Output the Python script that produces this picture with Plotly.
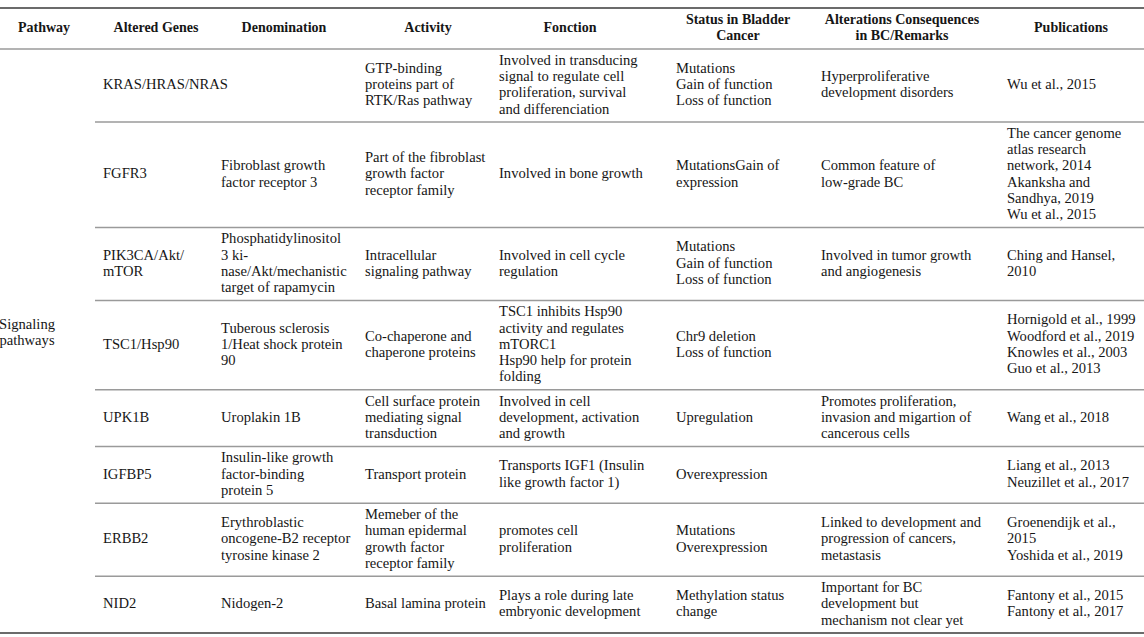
import plotly.graph_objects as go

# ---------------- data ----------------
header_lines = [
    ["Pathway"],
    ["Altered Genes"],
    ["Denomination"],
    ["Activity"],
    ["Fonction"],
    ["Status in Bladder", "Cancer"],
    ["Alterations Consequences", "in BC/Remarks"],
    ["Publications"],
]

pathway_label = ["Signaling", "pathways"]

altered_genes = [
    ["KRAS/HRAS/NRAS"],
    ["FGFR3"],
    ["PIK3CA/Akt/", "mTOR"],
    ["TSC1/Hsp90"],
    ["UPK1B"],
    ["IGFBP5"],
    ["ERBB2"],
    ["NID2"],
]

denomination = [
    [],
    ["Fibroblast growth", "factor receptor 3"],
    ["Phosphatidylinositol", "3 ki-", "nase/Akt/mechanistic", "target of rapamycin"],
    ["Tuberous sclerosis", "1/Heat shock protein", "90"],
    ["Uroplakin 1B"],
    ["Insulin-like growth", "factor-binding", "protein 5"],
    ["Erythroblastic", "oncogene-B2 receptor", "tyrosine kinase 2"],
    ["Nidogen-2"],
]

activity = [
    ["GTP-binding", "proteins part of", "RTK/Ras pathway"],
    ["Part of the fibroblast", "growth factor", "receptor family"],
    ["Intracellular", "signaling pathway"],
    ["Co-chaperone and", "chaperone proteins"],
    ["Cell surface protein", "mediating signal", "transduction"],
    ["Transport protein"],
    ["Memeber of the", "human epidermal", "growth factor", "receptor family"],
    ["Basal lamina protein"],
]

fonction = [
    ["Involved in transducing", "signal to regulate cell", "proliferation, survival", "and differenciation"],
    ["Involved in bone growth"],
    ["Involved in cell cycle", "regulation"],
    ["TSC1 inhibits Hsp90", "activity and regulates", "mTORC1", "Hsp90 help for protein", "folding"],
    ["Involved in cell", "development, activation", "and growth"],
    ["Transports IGF1 (Insulin", "like growth factor 1)"],
    ["promotes cell", "proliferation"],
    ["Plays a role during late", "embryonic development"],
]

status_bc = [
    ["Mutations", "Gain of function", "Loss of function"],
    ["MutationsGain of", "expression"],
    ["Mutations", "Gain of function", "Loss of function"],
    ["Chr9 deletion", "Loss of function"],
    ["Upregulation"],
    ["Overexpression"],
    ["Mutations", "Overexpression"],
    ["Methylation status", "change"],
]

alterations = [
    ["Hyperproliferative", "development disorders"],
    ["Common feature of", "low-grade BC"],
    ["Involved in tumor growth", "and angiogenesis"],
    [],
    ["Promotes proliferation,", "invasion and migartion of", "cancerous cells"],
    [],
    ["Linked to development and", "progression of cancers,", "metastasis"],
    ["Important for BC", "development but", "mechanism not clear yet"],
]

publications = [
    ["Wu et al., 2015"],
    ["The cancer genome", "atlas research", "network, 2014", "Akanksha and", "Sandhya, 2019", "Wu et al., 2015"],
    ["Ching and Hansel,", "2010"],
    ["Hornigold et al., 1999", "Woodford et al., 2019", "Knowles et al., 2003", "Guo et al., 2013"],
    ["Wang et al., 2018"],
    ["Liang et al., 2013", "Neuzillet et al., 2017"],
    ["Groenendijk et al.,", "2015", "Yoshida et al., 2019"],
    ["Fantony et al., 2015", "Fantony et al., 2017"],
]

# ---------------- layout constants ----------------
W, H = 1144, 637
FONT = "Liberation Serif"
BODY_SIZE = 14.6
HEAD_SIZE = 14
LINE_H = 16.25
PAD = 8
TOP_Y = 8
HEAD_Y = 49
ROW_LINE_X0 = 95
col_text_x = [103, 221, 365, 499, 676, 821, 1007]
header_cx = [44, 156, 284, 428, 570, 738, 902, 1071]
pathway_cx = 27
pathway_shift = -8
TEXT_COLOR = "#161616"

body_cols = [altered_genes, denomination, activity, fonction, status_bc, alterations, publications]
n_rows = len(altered_genes)

# row boundaries from number of text lines
row_bounds = [HEAD_Y]
for r in range(n_rows):
    nmax = max(len(c[r]) for c in body_cols)
    row_bounds.append(row_bounds[-1] + nmax * LINE_H + PAD)

xs, ys, ts = [], [], []
for ci, col in enumerate(body_cols):
    for r in range(n_rows):
        lines = col[r]
        yc = (row_bounds[r] + row_bounds[r + 1]) / 2
        n = len(lines)
        for k, t in enumerate(lines):
            xs.append(col_text_x[ci])
            ys.append(yc + (k - (n - 1) / 2) * LINE_H)
            ts.append(t)

hx, hy, ht = [], [], []
head_c = (TOP_Y + HEAD_Y) / 2
for ci, lines in enumerate(header_lines):
    n = len(lines)
    for k, t in enumerate(lines):
        hx.append(header_cx[ci])
        hy.append(head_c + (k - (n - 1) / 2) * LINE_H)
        ht.append("<b>" + t + "</b>")

body_c = (HEAD_Y + row_bounds[-1]) / 2 + pathway_shift
px, py, pt = [], [], []
for k, t in enumerate(pathway_label):
    px.append(pathway_cx)
    py.append(body_c + (k - (len(pathway_label) - 1) / 2) * LINE_H)
    pt.append(t)

fig = go.Figure()
fig.add_trace(go.Scatter(x=xs, y=ys, text=ts, mode="text", textposition="middle right",
                         textfont=dict(family=FONT, size=BODY_SIZE, color=TEXT_COLOR),
                         hoverinfo="skip", showlegend=False, cliponaxis=False))
fig.add_trace(go.Scatter(x=px, y=py, text=pt, mode="text", textposition="middle center",
                         textfont=dict(family=FONT, size=BODY_SIZE, color=TEXT_COLOR),
                         hoverinfo="skip", showlegend=False, cliponaxis=False))
fig.add_trace(go.Scatter(x=hx, y=hy, text=ht, mode="text", textposition="middle center",
                         textfont=dict(family=FONT, size=HEAD_SIZE, color=TEXT_COLOR),
                         hoverinfo="skip", showlegend=False, cliponaxis=False))

shapes = []
shapes.append(dict(type="line", x0=0, x1=W, y0=TOP_Y, y1=TOP_Y, xref="x", yref="y",
                   line=dict(color="#3a3a3a", width=1.6)))
shapes.append(dict(type="line", x0=0, x1=W, y0=HEAD_Y, y1=HEAD_Y, xref="x", yref="y",
                   line=dict(color="#9a9a9a", width=1.4)))
for yb in row_bounds[1:-1]:
    shapes.append(dict(type="line", x0=ROW_LINE_X0, x1=W, y0=yb, y1=yb, xref="x", yref="y",
                       line=dict(color="#9a9a9a", width=1.4)))
shapes.append(dict(type="line", x0=0, x1=W, y0=row_bounds[-1], y1=row_bounds[-1], xref="x", yref="y",
                   line=dict(color="#3a3a3a", width=1.6)))

fig.update_layout(
    width=W, height=H,
    margin=dict(l=0, r=0, t=0, b=0),
    paper_bgcolor="white", plot_bgcolor="white",
    xaxis=dict(range=[0, W], visible=False, fixedrange=True),
    yaxis=dict(range=[H, 0], visible=False, fixedrange=True),
    shapes=shapes,
    showlegend=False,
    hovermode=False,
)

fig.write_html(
    "out.html",
    config={"displayModeBar": False, "staticPlot": True},
    post_script="document.body.style.margin='0';document.body.style.padding='0';"
                "document.documentElement.style.overflow='hidden';",
)
